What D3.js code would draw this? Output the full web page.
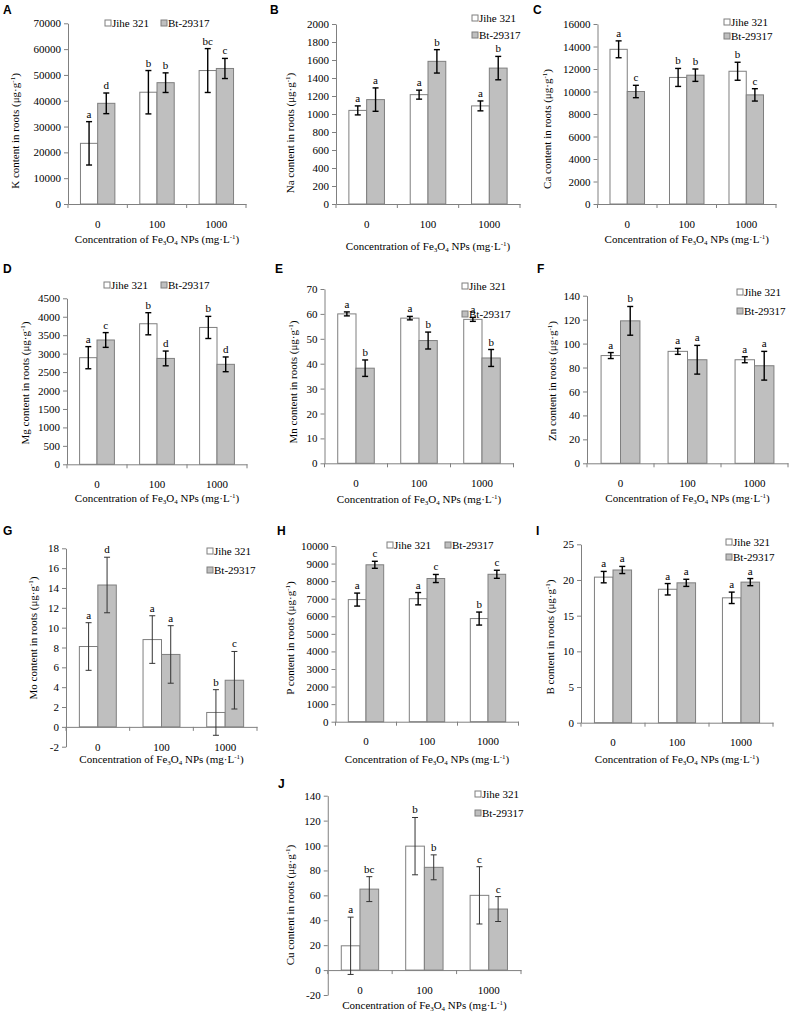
<!DOCTYPE html>
<html><head><meta charset="utf-8">
<script src="https://cdn.jsdelivr.net/npm/d3@7"></script>
<style>
body{margin:0;background:#fff} svg{display:block}
svg text{font-family:"Liberation Serif","DejaVu Serif",serif;}
svg text.plabel{font-family:"Liberation Sans","DejaVu Sans",sans-serif;font-weight:bold;}
</style>
</head><body><svg id="c" width="800" height="1014"></svg>
<script>
// ---------- DATA ----------
const categories = ["0", "100", "1000"];
const seriesNames = ["Jihe 321", "Bt-29317"];
const elements = ["K", "Na", "Ca", "Mg", "Mn", "Zn", "Mo", "P", "B", "Cu"];
const panelLetters = ["A", "B", "C", "D", "E", "F", "G", "H", "I", "J"];

const K_jihe = [23500, 43300, 51700], K_jiheErr = [8400, 8400, 8500];
const K_bt = [39000, 47000, 52500], K_btErr = [4000, 3800, 3900];
const K_sig = [["a", "b", "bc"], ["d", "b", "c"]];
const K_ticks = [0, 10000, 20000, 30000, 40000, 50000, 60000, 70000];

const Na_jihe = [1040, 1215, 1090], Na_jiheErr = [50, 50, 55];
const Na_bt = [1160, 1585, 1510], Na_btErr = [130, 130, 130];
const Na_sig = [["a", "a", "a"], ["a", "b", "b"]];
const Na_ticks = [0, 200, 400, 600, 800, 1000, 1200, 1400, 1600, 1800, 2000];

const Ca_jihe = [13750, 11250, 11800], Ca_jiheErr = [750, 800, 800];
const Ca_bt = [10000, 11450, 9700], Ca_btErr = [550, 550, 550];
const Ca_sig = [["a", "b", "b"], ["c", "b", "c"]];
const Ca_ticks = [0, 2000, 4000, 6000, 8000, 10000, 12000, 14000, 16000];

const Mg_jihe = [2890, 3810, 3710], Mg_jiheErr = [300, 300, 300];
const Mg_bt = [3370, 2870, 2710], Mg_btErr = [200, 200, 200];
const Mg_sig = [["a", "b", "b"], ["c", "d", "d"]];
const Mg_ticks = [0, 500, 1000, 1500, 2000, 2500, 3000, 3500, 4000, 4500];

const Mn_jihe = [60, 58.3, 57.8], Mn_jiheErr = [0.8, 0.7, 0.8];
const Mn_bt = [38.2, 49.3, 42.3], Mn_btErr = [3.3, 3.4, 3.4];
const Mn_sig = [["a", "a", "a"], ["b", "b", "b"]];
const Mn_ticks = [0, 10, 20, 30, 40, 50, 60, 70];

const Zn_jihe = [90, 93.5, 86.5], Zn_jiheErr = [2.5, 2.5, 2.5];
const Zn_bt = [119, 86.5, 81.5], Zn_btErr = [12, 12, 12];
const Zn_sig = [["a", "a", "a"], ["b", "a", "a"]];
const Zn_ticks = [0, 20, 40, 60, 80, 100, 120, 140];

const Mo_jihe = [8.1, 8.8, 1.45], Mo_jiheErr = [2.4, 2.4, 2.3];
const Mo_bt = [14.3, 7.3, 4.7], Mo_btErr = [2.8, 2.9, 2.9];
const Mo_sig = [["a", "a", "b"], ["d", "a", "c"]];
const Mo_ticks = [-2, 0, 2, 4, 6, 8, 10, 12, 14, 16, 18];

const P_jihe = [6950, 7000, 5870], P_jiheErr = [370, 350, 370];
const P_bt = [8930, 8150, 8390], P_btErr = [200, 230, 230];
const P_sig = [["a", "a", "b"], ["c", "c", "c"]];
const P_ticks = [0, 1000, 2000, 3000, 4000, 5000, 6000, 7000, 8000, 9000, 10000];

const B_jihe = [20.4, 18.7, 17.5], B_jiheErr = [0.8, 0.8, 0.8];
const B_bt = [21.4, 19.6, 19.7], B_btErr = [0.5, 0.5, 0.5];
const B_sig = [["a", "a", "a"], ["a", "a", "a"]];
const B_ticks = [0, 5, 10, 15, 20, 25];

const Cu_jihe = [19.5, 99.5, 60], Cu_jiheErr = [23, 23, 23];
const Cu_bt = [65, 82.5, 49], Cu_btErr = [10, 10, 10];
const Cu_sig = [["a", "b", "c"], ["bc", "b", "c"]];
const Cu_ticks = [-20, 0, 20, 40, 60, 80, 100, 120, 140];

const panelData = [
  [K_jihe, K_jiheErr, K_bt, K_btErr, K_sig, K_ticks],
  [Na_jihe, Na_jiheErr, Na_bt, Na_btErr, Na_sig, Na_ticks],
  [Ca_jihe, Ca_jiheErr, Ca_bt, Ca_btErr, Ca_sig, Ca_ticks],
  [Mg_jihe, Mg_jiheErr, Mg_bt, Mg_btErr, Mg_sig, Mg_ticks],
  [Mn_jihe, Mn_jiheErr, Mn_bt, Mn_btErr, Mn_sig, Mn_ticks],
  [Zn_jihe, Zn_jiheErr, Zn_bt, Zn_btErr, Zn_sig, Zn_ticks],
  [Mo_jihe, Mo_jiheErr, Mo_bt, Mo_btErr, Mo_sig, Mo_ticks],
  [P_jihe, P_jiheErr, P_bt, P_btErr, P_sig, P_ticks],
  [B_jihe, B_jiheErr, B_bt, B_btErr, B_sig, B_ticks],
  [Cu_jihe, Cu_jiheErr, Cu_bt, Cu_btErr, Cu_sig, Cu_ticks]
];

// ---------- LAYOUT ----------
const layout = [
  {x0:68, x1:246, yTop:23.3, yBot:204, letter:[3,14], ylab:[15,131], xlabY:243, leg:{t:"h", y:23, xs:[105,161]}},
  {x0:336, x1:520, yTop:24, yBot:204, letter:[270,14], ylab:[290,133], xlabY:250, leg:{t:"v", x:472, ys:[18,35]}},
  {x0:597.5, x1:776, yTop:24, yBot:204, letter:[533,14], ylab:[547,129], xlabY:243, leg:{t:"v", x:724, ys:[22,36]}},
  {x0:67, x1:247, yTop:298.3, yBot:464.3, letter:[3,273], ylab:[25,383], xlabY:502, leg:{t:"h", y:285, xs:[104,161]}},
  {x0:324.5, x1:513.5, yTop:289, yBot:463.3, letter:[275,273], ylab:[293,382], xlabY:503, leg:{t:"v", x:462, ys:[286,314]}},
  {x0:587, x1:788, yTop:295.7, yBot:463.3, letter:[537,273], ylab:[552,381], xlabY:502, leg:{t:"v", x:737, ys:[292,311]}},
  {x0:66, x1:257, yTop:548.3, yBot:746.7, letter:[3,535], ylab:[33,638], xlabY:763, leg:{t:"v", x:207, ys:[551,570]}, thinErr:true},
  {x0:335.5, x1:518.5, yTop:546, yBot:721.7, letter:[277,535], ylab:[290,638], xlabY:763, leg:{t:"h", y:545, xs:[387,445]}},
  {x0:581, x1:773, yTop:544.3, yBot:722.7, letter:[536,535], ylab:[550,637], xlabY:763, leg:{t:"v", x:726, ys:[542,557]}},
  {x0:327.75, x1:521, yTop:795.7, yBot:995, letter:[278,788], ylab:[290,905], xlabY:1009, leg:{t:"v", x:475, ys:[794,813]}, thinErr:true}
];

const fills = ["#ffffff", "#bfbfbf"];
const barStroke = "#7f7f7f";
const svg = d3.select("#c");

function drawPanel(i) {
  const [jm, je, bm, be, sig, ticks] = panelData[i];
  const p = layout[i];
  const g = svg.append("g");
  const yMin = d3.min(ticks), yMax = d3.max(ticks);
  const x = d3.scaleBand().domain(categories).range([p.x0, p.x1]);
  const y = d3.scaleLinear().domain([yMin, yMax]).range([p.yBot, p.yTop]);
  const bw = x.bandwidth() * 0.29;
  const means = [jm, bm], errs = [je, be];

  // y axis
  const ya = g.append("g").attr("transform", `translate(${p.x0},0)`)
    .call(d3.axisLeft(y).tickValues(ticks).tickSize(4).tickSizeOuter(0).tickPadding(3).tickFormat(d => String(d)));
  ya.select(".domain").attr("stroke", "#808080");
  ya.selectAll(".tick line").attr("stroke", "#808080");
  ya.selectAll(".tick text").attr("font-size", 11).attr("fill", "#000");

  // bars
  seriesNames.forEach((s, si) => {
    g.append("g").selectAll("rect").data(categories).join("rect")
      .attr("x", c => x(c) + x.bandwidth() / 2 - bw + si * bw)
      .attr("width", bw)
      .attr("y", (c, k) => Math.min(y(means[si][k]), y(0)))
      .attr("height", (c, k) => Math.abs(y(0) - y(means[si][k])))
      .attr("fill", fills[si]).attr("stroke", barStroke).attr("stroke-width", 1);
  });

  // x axis at zero
  const y0 = y(0);
  const xa = g.append("g").attr("transform", `translate(0,${y0})`)
    .call(d3.axisBottom(x).tickSize(0).tickPadding(16));
  xa.select(".domain").attr("stroke", "#808080");
  xa.selectAll(".tick text").attr("font-size", 11).attr("fill", "#000");
  const bounds = [p.x0, ...categories.slice(1).map(c => x(c)), p.x1];
  g.append("g").selectAll("line").data(bounds).join("line")
    .attr("x1", d => d).attr("x2", d => d).attr("y1", y0).attr("y2", y0 + 4)
    .attr("stroke", "#808080");

  // error bars + letters
  seriesNames.forEach((s, si) => {
    categories.forEach((c, k) => {
      const cx = x(c) + x.bandwidth() / 2 - bw / 2 + si * bw;
      const m = means[si][k], e = errs[si][k];
      const col = p.thinErr ? "#333" : "#000";
      const sw = p.thinErr ? 1 : 1.4;
      const eg = g.append("g").attr("stroke", col).attr("stroke-width", sw);
      eg.append("line").attr("x1", cx).attr("x2", cx).attr("y1", y(m - e)).attr("y2", y(m + e));
      [m - e, m + e].forEach(v => eg.append("line").attr("x1", cx - 3).attr("x2", cx + 3).attr("y1", y(v)).attr("y2", y(v)));
      g.append("text").attr("x", cx).attr("y", y(m + e) - 4)
        .attr("text-anchor", "middle").attr("font-size", 11).attr("fill", "#000")
        .text(sig[si][k]);
    });
  });

  // panel letter
  g.append("text").attr("class", "plabel").attr("x", p.letter[0]).attr("y", p.letter[1])
    .attr("font-size", 12).text(panelLetters[i]);

  // y label
  const yl = g.append("text").attr("transform", `translate(${p.ylab[0]},${p.ylab[1]}) rotate(-90)`)
    .attr("text-anchor", "middle").attr("dy", "0.35em")
    .attr("font-size", 11).attr("fill", "#000");
  yl.append("tspan").text(`${elements[i]} content in roots (μg·g`);
  yl.append("tspan").attr("font-size", 7).attr("dy", -4).text("-1");
  yl.append("tspan").attr("dy", 4).text(")");

  // x label
  const xl = g.append("text").attr("x", (p.x0 + p.x1) / 2).attr("y", p.xlabY)
    .attr("text-anchor", "middle").attr("font-size", 11).attr("fill", "#000");
  xl.append("tspan").text("Concentration of Fe");
  xl.append("tspan").attr("font-size", 7).attr("dy", 2).text("3");
  xl.append("tspan").attr("dy", -2).text("O");
  xl.append("tspan").attr("font-size", 7).attr("dy", 2).text("4");
  xl.append("tspan").attr("dy", -2).text(" NPs (mg·L");
  xl.append("tspan").attr("font-size", 7).attr("dy", -4).text("-1");
  xl.append("tspan").attr("dy", 4).text(")");

  // legend
  const L = p.leg;
  seriesNames.forEach((s, si) => {
    const lx = L.t === "h" ? L.xs[si] : L.x;
    const ly = L.t === "h" ? L.y : L.ys[si];
    g.append("rect").attr("x", lx).attr("y", ly - 3).attr("width", 6).attr("height", 6)
      .attr("fill", fills[si]).attr("stroke", barStroke).attr("stroke-width", 1);
    g.append("text").attr("x", lx + 7).attr("y", ly).attr("dy", "0.35em")
      .attr("font-size", 11).attr("fill", "#000").text(s);
  });
}

panelData.forEach((d, i) => drawPanel(i));
</script></body></html>
